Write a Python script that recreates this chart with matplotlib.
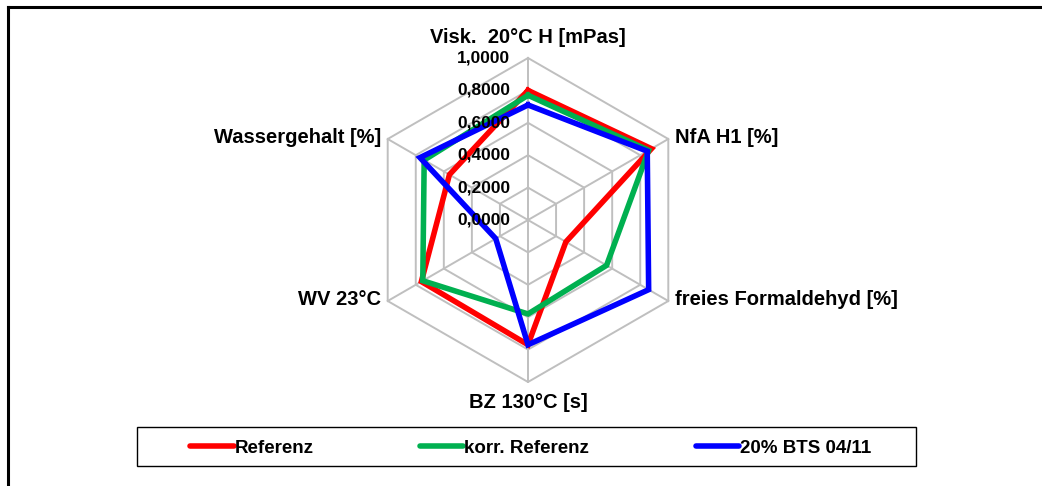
import numpy as np
import matplotlib
matplotlib.use("Agg")
from matplotlib import pyplot as plt
from matplotlib.patches import Rectangle
from matplotlib.lines import Line2D

# Spider chart data (normalised values, clockwise from the top)
categories = ["Visk.  20°C H [mPas]", "NfA H1 [%]", "freies Formaldehyd [%]",
              "BZ 130°C [s]", "WV 23°C", "Wassergehalt [%]"]
referenz = [0.80, 0.88, 0.27, 0.77, 0.76, 0.56]
korrReferenz = [0.77, 0.86, 0.56, 0.58, 0.75, 0.74]
bts = [0.71, 0.85, 0.86, 0.77, 0.23, 0.77]
seriesNames = ["Referenz", "korr. Referenz", "20% BTS 04/11"]
seriesColors = ["#FF0000", "#00B050", "#0000FF"]
ringValues = [0.0, 0.2, 0.4, 0.6, 0.8, 1.0]
ringLabels = ["0,0000", "0,2000", "0,4000", "0,6000", "0,8000", "1,0000"]

plt.rcParams["font.family"] = ["Liberation Sans", "DejaVu Sans"]
plt.rcParams["font.weight"] = "bold"

W, H = 1042, 486
fig = plt.figure(figsize=(W/100, H/100), dpi=100)

# radar area: centre at (528, 220) px, outer ring radius 162 px
cx, cy, rad, half = 528, 220, 162, 200
ax = fig.add_axes([(cx-half)/W, (H-cy-half)/H, 2*half/W, 2*half/H])
lim = half/rad
ax.set_xlim(-lim, lim)
ax.set_ylim(-lim, lim)
ax.axis("off")

n = len(categories)
angles = np.arange(n) * 2*np.pi/n
sx, sy = np.sin(angles), np.cos(angles)

# hexagon grid and spokes
for r in ringValues[1:]:
    ax.plot(np.append(sx, sx[0])*r, np.append(sy, sy[0])*r, color="#BFBFBF", lw=1.4, zorder=1)
for i in range(n):
    ax.plot([0, sx[i]], [0, sy[i]], color="#BFBFBF", lw=1.4, zorder=1)

for vals, name, col in zip([referenz, korrReferenz, bts], seriesNames, seriesColors):
    v = np.array(vals)
    ax.plot(np.append(sx*v, sx[0]*v[0]), np.append(sy*v, sy[0]*v[0]), color=col, lw=4.0,
            solid_joinstyle="miter", zorder=3, label=name)

for r, lab in zip(ringValues, ringLabels):
    ax.text(-0.11, r, lab, ha="right", va="center", fontsize=12.5, fontweight="bold", zorder=4)

# category labels around the outside
for i, lab in enumerate(categories):
    if abs(sx[i]) < 1e-6:
        ax.text(0, sy[i]*1.125, lab, ha="center", va="center", fontsize=14.5, fontweight="bold")
    elif sx[i] > 0:
        ax.text(sx[i]+0.04, sy[i]+0.01, lab, ha="left", va="center", fontsize=14.5, fontweight="bold")
    else:
        ax.text(sx[i]-0.04, sy[i]+0.01, lab, ha="right", va="center", fontsize=14.5, fontweight="bold")

# outer frame (left and top edges) and legend box
fig.add_artist(Line2D([7.5/W, 7.5/W], [0, 1-7.5/H], color="black", lw=2.2))
fig.add_artist(Line2D([7.5/W, 1], [1-7.5/H, 1-7.5/H], color="black", lw=2.2))
fig.add_artist(Rectangle((137/W, 1-466/H), 779/W, 39/H, fill=False, edgecolor="black", lw=1.0))

handles = [Line2D([], [], color=c, lw=4.0, solid_capstyle="round") for c in seriesColors]
fig.legend(handles, seriesNames, loc="center left", bbox_to_anchor=(181/W, 1-448/H),
           ncol=3, frameon=False, borderpad=0, handlelength=2.3, handletextpad=0.05,
           columnspacing=5.7, prop={"size": 13.5, "weight": "bold"})

fig.savefig("out.png", dpi=100)
